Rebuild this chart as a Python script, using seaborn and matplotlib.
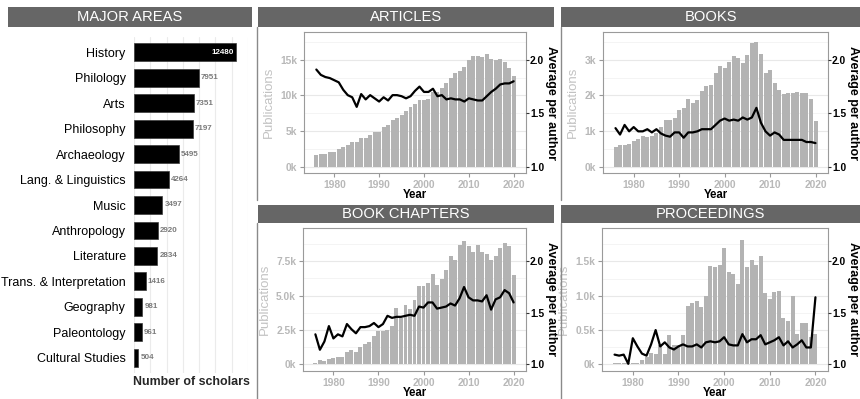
import matplotlib
matplotlib.use("Agg")
import matplotlib.pyplot as plt
from matplotlib.patches import Rectangle
from matplotlib.lines import Line2D
import seaborn as sns
import pandas as pd
import numpy as np

# ---------------- data ----------------
areas = ["History", "Philology", "Arts", "Philosophy", "Archaeology",
         "Lang. & Linguistics", "Music", "Anthropology", "Literature",
         "Trans. & Interpretation", "Geography", "Paleontology", "Cultural Studies"]
scholars = [12480, 7951, 7351, 7197, 5495, 4264, 3497, 2920, 2834, 1416, 981, 961, 504]

years = list(range(1976, 2021))

articles_pubs = [1.7, 1.8, 1.8, 2.0, 2.1, 2.5, 2.7, 3.0, 3.4, 3.4, 4.0, 4.0, 4.5, 4.8, 4.9,
                 5.6, 5.9, 6.6, 6.8, 7.2, 7.8, 8.4, 8.8, 9.3, 9.4, 9.5, 10.5, 10.5, 11.1, 11.7,
                 12.5, 13.1, 13.4, 14.0, 15.0, 15.6, 15.5, 15.4, 15.8, 15.2, 15.0, 15.1, 14.7, 13.9, 12.7]
articles_avg = [1.91, 1.86, 1.84, 1.83, 1.81, 1.79, 1.72, 1.67, 1.65, 1.56, 1.68, 1.63, 1.67, 1.64, 1.61,
                1.65, 1.62, 1.67, 1.67, 1.66, 1.64, 1.66, 1.71, 1.75, 1.70, 1.70, 1.73, 1.66, 1.67, 1.63,
                1.64, 1.63, 1.63, 1.61, 1.64, 1.63, 1.62, 1.62, 1.66, 1.70, 1.73, 1.77, 1.78, 1.78, 1.80]

books_pubs = [0.54, 0.60, 0.62, 0.63, 0.72, 0.78, 0.85, 0.84, 0.87, 0.95, 1.10, 1.30, 1.30, 1.37, 1.58,
              1.65, 1.90, 1.78, 1.87, 2.12, 2.27, 2.30, 2.62, 2.83, 2.78, 2.95, 3.10, 3.04, 2.92, 3.14,
              3.48, 3.50, 3.15, 2.62, 2.70, 2.36, 2.15, 2.05, 2.07, 2.08, 2.09, 2.06, 2.08, 1.90, 1.28]
books_avg = [1.36, 1.30, 1.39, 1.33, 1.37, 1.33, 1.33, 1.35, 1.32, 1.35, 1.31, 1.29, 1.28, 1.32, 1.32,
             1.27, 1.32, 1.32, 1.33, 1.35, 1.35, 1.35, 1.39, 1.43, 1.45, 1.43, 1.44, 1.43, 1.46, 1.44,
             1.46, 1.55, 1.41, 1.33, 1.29, 1.32, 1.30, 1.25, 1.25, 1.25, 1.25, 1.25, 1.23, 1.23, 1.22]

chapters_pubs = [0.10, 0.30, 0.25, 0.35, 0.45, 0.55, 0.55, 0.90, 1.05, 0.85, 1.25, 1.45, 1.60, 2.05, 2.40,
                 2.45, 2.50, 2.80, 4.10, 3.40, 4.30, 4.00, 4.70, 5.70, 5.70, 5.90, 6.60, 5.80, 6.20, 6.90,
                 7.90, 7.60, 8.70, 9.00, 8.60, 8.20, 8.70, 8.20, 8.00, 7.60, 7.90, 8.50, 8.80, 8.60, 6.50]
chapters_avg = [1.29, 1.14, 1.22, 1.37, 1.25, 1.29, 1.27, 1.39, 1.34, 1.30, 1.36, 1.36, 1.37, 1.40, 1.36,
                1.39, 1.47, 1.45, 1.46, 1.46, 1.47, 1.48, 1.47, 1.56, 1.55, 1.60, 1.60, 1.54, 1.55, 1.56,
                1.59, 1.57, 1.64, 1.75, 1.65, 1.62, 1.62, 1.61, 1.67, 1.53, 1.63, 1.65, 1.72, 1.69, 1.60]

proceedings_pubs = [0.005, 0.005, 0.005, 0.005, 0.01, 0.01, 0.05, 0.10, 0.16, 0.14, 0.28, 0.14, 0.42, 0.28, 0.28,
                    0.42, 0.84, 0.89, 0.92, 0.83, 1.00, 1.43, 1.42, 1.45, 1.70, 1.34, 1.32, 1.17, 1.82, 1.42,
                    1.52, 1.45, 1.58, 1.04, 0.95, 1.05, 1.07, 0.67, 0.63, 1.00, 0.44, 0.60, 0.60, 0.40, 0.44]
proceedings_avg = [1.09, 1.08, 1.09, 1.00, 1.25, 1.17, 1.10, 1.08, 1.19, 1.33, 1.17, 1.21, 1.16, 1.14, 1.17,
                   1.19, 1.17, 1.17, 1.19, 1.16, 1.21, 1.22, 1.21, 1.22, 1.26, 1.19, 1.18, 1.18, 1.29, 1.21,
                   1.24, 1.24, 1.28, 1.19, 1.21, 1.23, 1.26, 1.18, 1.22, 1.16, 1.19, 1.23, 1.16, 1.16, 1.65]

panel_titles = ["ARTICLES", "BOOKS", "BOOK CHAPTERS", "PROCEEDINGS"]
# thousands of publications that correspond to +1.0 average per author
panel_scale = [15, 3, 7.5, 1.5]
panel_ticks = [[0, 5, 10, 15], [0, 1, 2, 3], [0, 2.5, 5.0, 7.5], [0, 0.5, 1.0, 1.5]]
panel_ticklabels = [["0k", "5k", "10k", "15k"], ["0k", "1k", "2k", "3k"],
                    ["0k", "2.5k", "5.0k", "7.5k"], ["0k", "0.5k", "1.0k", "1.5k"]]
panel_ylim = [(-0.9, 18.93), (-0.18, 3.78), (-0.5, 9.93), (-0.105, 1.99)]
avg_ticks = [1.0, 1.5, 2.0]
avg_ticklabels = ["1.0", "1.5", "2.0"]
year_ticks = [1980, 1990, 2000, 2010, 2020]

# ---------------- style ----------------
sns.set_theme(style="white")
plt.rcParams["font.family"] = ["Liberation Sans", "DejaVu Sans"]

W, H = 860, 399
fig = plt.figure(figsize=(W / 100, H / 100), dpi=100)
fig.patch.set_facecolor("white")


def px_rect(x0, y0, x1, y1):
    return [x0 / W, 1 - y1 / H, (x1 - x0) / W, (y1 - y0) / H]


def strip(x0, y0, x1, y1, text):
    r = Rectangle((x0 / W, 1 - y1 / H), (x1 - x0) / W, (y1 - y0) / H,
                  transform=fig.transFigure, facecolor="#666666", edgecolor="none", zorder=5)
    fig.add_artist(r)
    fig.text((x0 + x1) / 2 / W, 1 - (y0 + y1) / 2 / H, text, color="white",
             fontsize=10.6, ha="center", va="center", zorder=6)


def vline(x, y0, y1, color="#8a8a8a"):
    fig.add_artist(Line2D([x / W, x / W], [1 - y0 / H, 1 - y1 / H],
                          transform=fig.transFigure, color=color, lw=1.0))


GRAY_BAR = "#b3b3b3"
GRAY_TXT = "#b8b8b8"

# ---------------- left panel: major areas ----------------
strip(8, 7, 252, 27, "MAJOR AREAS")
axL = fig.add_axes(px_rect(134, 37, 248, 373))
dfL = pd.DataFrame({"area": areas, "n": scholars})
sns.barplot(data=dfL, x="n", y="area", orient="h", color="black", width=0.7,
            saturation=1, edgecolor="#3a3a3a", linewidth=0.5, ax=axL, zorder=3)
axL.set_xlim(0, 14000)
axL.set_ylim(len(areas) - 0.4, -0.6)
axL.set_xticks(np.arange(0, 14001, 2000))
axL.set_xticklabels([])
axL.tick_params(axis="x", length=0)
axL.tick_params(axis="y", length=0, pad=6, labelsize=9.0, labelcolor="black")
axL.grid(axis="x", color="#ebebeb", lw=0.8, zorder=0)
axL.grid(axis="y", visible=False)
for s in axL.spines.values():
    s.set_visible(False)
axL.set_ylabel("")
axL.set_xlabel("")
for i, v in enumerate(scholars):
    if v > 10000:
        axL.text(v - 250, i, str(v), color="white", fontsize=5.8, fontweight="bold",
                 ha="right", va="center", zorder=4)
    else:
        axL.text(v + 280, i, str(v), color="#7a7a7a", fontsize=5.8, fontweight="bold",
                 ha="left", va="center", zorder=4)
fig.text(191 / W, 1 - 382 / H, "Number of scholars", fontsize=8.9, fontweight="bold",
         ha="center", va="center")

# ---------------- right panels ----------------
panels = [
    (articles_pubs, articles_avg),
    (books_pubs, books_avg),
    (chapters_pubs, chapters_avg),
    (proceedings_pubs, proceedings_avg),
]
# pixel boxes: (strip x0, strip y0, strip x1, strip y1, ax x0, ax y0, ax x1, ax y1, border x, right label x)
boxes = [
    (258, 7, 554, 27, 304, 32, 526, 173, 257, 551),
    (561, 7, 860, 27, 603, 32, 828, 173, 561, 853),
    (258, 205, 554, 223, 303, 228, 526, 371, 257, 551),
    (561, 205, 860, 223, 602, 228, 828, 371, 561, 853),
]

for k, ((pubs, avg), box) in enumerate(zip(panels, boxes)):
    sx0, sy0, sx1, sy1, ax0, ay0, ax1, ay1, bx, rlx = box
    vline(bx, sy1, 200 if k < 2 else 399)
    strip(sx0, sy0, sx1, sy1, panel_titles[k])
    ax = fig.add_axes(px_rect(ax0, ay0, ax1, ay1))
    df = pd.DataFrame({"year": years, "pubs": pubs})
    sns.barplot(data=df, x="year", y="pubs", native_scale=True, color=GRAY_BAR,
                saturation=1, width=0.88, linewidth=0, errorbar=None, ax=ax, zorder=2)
    ax.set_xlim(1973.25, 2022.75)
    lo, hi = panel_ylim[k]
    ax.set_ylim(lo, hi)
    ax.set_yticks(panel_ticks[k])
    ax.set_yticklabels(panel_ticklabels[k])
    step = panel_ticks[k][1] - panel_ticks[k][0]
    minors = [t + step / 2 for t in panel_ticks[k]]
    ax.set_yticks(minors, minor=True)
    ax.grid(axis="y", which="major", color="#e8e8e8", lw=0.8, zorder=0)
    ax.grid(axis="y", which="minor", color="#f2f2f2", lw=0.6, zorder=0)
    ax.grid(axis="x", visible=False)
    ax.set_axisbelow(True)
    ax.set_xticks(year_ticks)
    ax.set_xticklabels([str(y) for y in year_ticks])
    ax.tick_params(axis="both", which="major", length=3, width=0.8, color="#999999",
                   labelsize=7.4, labelcolor=GRAY_TXT, pad=2, left=True, bottom=True)
    ax.tick_params(axis="y", which="minor", length=0)
    for lab in ax.get_xticklabels() + ax.get_yticklabels():
        lab.set_fontweight("bold")
    for s in ax.spines.values():
        s.set_color("#9a9a9a")
        s.set_linewidth(0.8)
    ax.set_xlabel("Year", fontsize=8.3, fontweight="bold", color="black", labelpad=-0.5)
    ax.set_ylabel("Publications", fontsize=9.5, color="#c2c2c2", labelpad=4)

    ax2 = ax.twinx()
    sc = panel_scale[k]
    ax2.set_ylim(1 + lo / sc, 1 + hi / sc)
    sns.lineplot(x=years, y=avg, ax=ax2, color="black", lw=1.6, zorder=5)
    ax2.set_xlim(1973.25, 2022.75)
    ax2.set_yticks(avg_ticks)
    ax2.set_yticklabels(avg_ticklabels)
    ax2.tick_params(axis="y", length=2, width=0.8, color="#333333", labelsize=7.4,
                    labelcolor="black", pad=0.8, right=True)
    for lab in ax2.get_yticklabels():
        lab.set_fontweight("bold")
    for s in ax2.spines.values():
        s.set_visible(False)
    ax2.grid(False)
    ax2.set_ylabel("Average per author", fontsize=9.0, fontweight="bold", color="black",
                   rotation=270, va="center", ha="center")
    ax2.yaxis.set_label_coords((rlx - ax0) / (ax1 - ax0), 0.5)

fig.savefig("out.png", dpi=100, facecolor="white")
